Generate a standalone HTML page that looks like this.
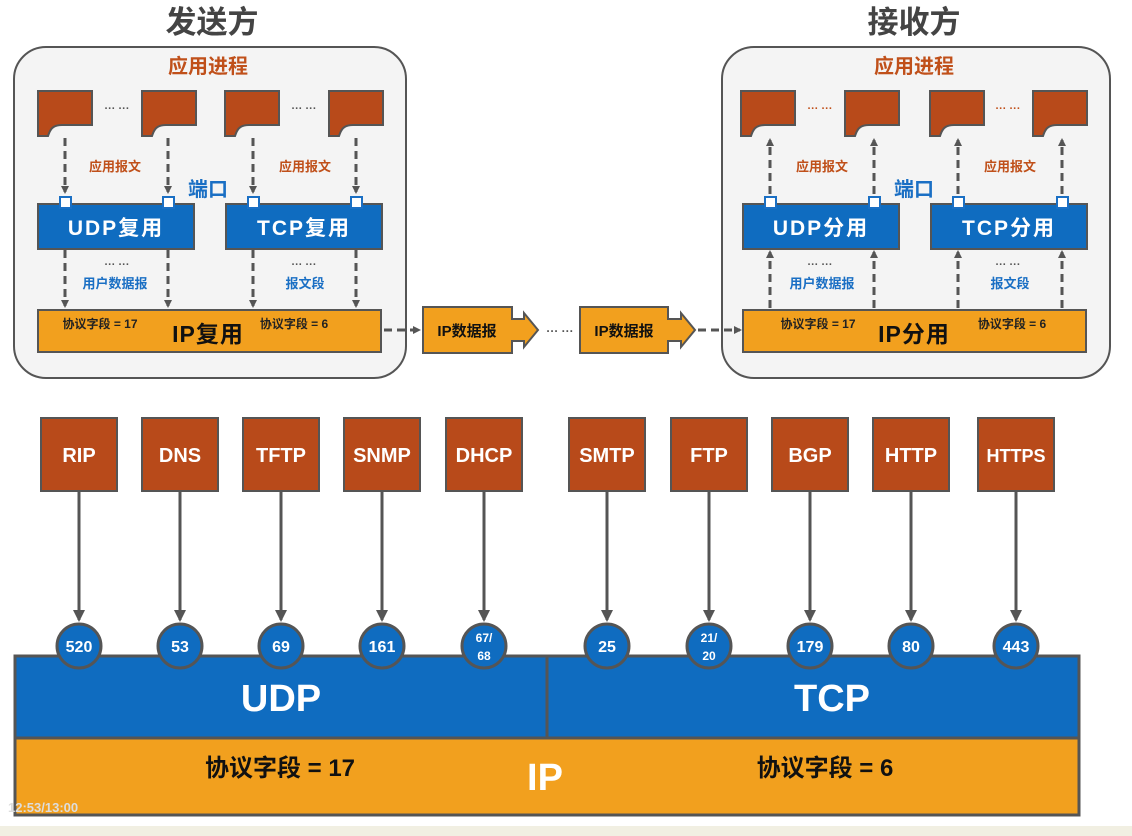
<!DOCTYPE html>
<html><head><meta charset="utf-8"><style>
html,body{margin:0;padding:0;background:#fff;}
svg{display:block;}
text{font-family:"Liberation Sans","Noto Sans CJK SC",sans-serif;font-weight:bold;}
</style></head><body>
<svg width="1132" height="836" viewBox="0 0 1132 836" xmlns="http://www.w3.org/2000/svg">
<defs>
<marker id="ah" markerWidth="8" markerHeight="8" refX="6" refY="4" orient="auto" markerUnits="userSpaceOnUse"><path d="M0,0 L8,4 L0,8 Z" fill="#555"/></marker>
<marker id="ah2" markerWidth="12" markerHeight="12" refX="10" refY="6" orient="auto" markerUnits="userSpaceOnUse"><path d="M0,0 L12,6 L0,12 Z" fill="#555"/></marker>
</defs>
<rect width="1132" height="836" fill="#fff"/>
<rect x="0" y="826" width="1132" height="10" fill="#f1efe2"/>

<text x="212" y="33" font-size="31" fill="#444" text-anchor="middle">发送方</text>
<text x="914" y="33" font-size="31" fill="#444" text-anchor="middle">接收方</text>

<rect x="14" y="47" width="392" height="331" rx="32" fill="#f4f4f4" stroke="#555" stroke-width="2"/>
<rect x="722" y="47" width="388" height="331" rx="32" fill="#f4f4f4" stroke="#555" stroke-width="2"/>
<text x="208" y="73" font-size="20" fill="#c0501a" text-anchor="middle">应用进程</text>
<text x="914" y="73" font-size="20" fill="#c0501a" text-anchor="middle">应用进程</text>

<g fill="#b84a1a" stroke="#555" stroke-width="2">
<path d="M38,91 H92 V125 H62 C52,125 50,130 48,136 H38 Z"/>
<path d="M142,91 H196 V125 H166 C156,125 154,130 152,136 H142 Z"/>
<path d="M225,91 H279 V125 H249 C239,125 237,130 235,136 H225 Z"/>
<path d="M329,91 H383 V125 H353 C343,125 341,130 339,136 H329 Z"/>
<path d="M741,91 H795 V125 H765 C755,125 753,130 751,136 H741 Z"/>
<path d="M845,91 H899 V125 H869 C859,125 857,130 855,136 H845 Z"/>
<path d="M930,91 H984 V125 H954 C944,125 942,130 940,136 H930 Z"/>
<path d="M1033,91 H1087 V125 H1057 C1047,125 1045,130 1043,136 H1033 Z"/>
</g>
<g font-size="11" fill="#555" text-anchor="middle">
<text x="117" y="112">··· ···</text><text x="304" y="112">··· ···</text>
<text x="117" y="268">··· ···</text><text x="304" y="268">··· ···</text>
<text x="820" y="112" fill="#c0501a">··· ···</text><text x="1008" y="112" fill="#c0501a">··· ···</text>
<text x="820" y="268">··· ···</text><text x="1008" y="268">··· ···</text>
</g>

<g stroke="#555" stroke-width="3" stroke-dasharray="8,5" fill="none">
<line x1="65" y1="138" x2="65" y2="192" marker-end="url(#ah)"/>
<line x1="168" y1="138" x2="168" y2="192" marker-end="url(#ah)"/>
<line x1="253" y1="138" x2="253" y2="192" marker-end="url(#ah)"/>
<line x1="356" y1="138" x2="356" y2="192" marker-end="url(#ah)"/>
<line x1="65" y1="250" x2="65" y2="306" marker-end="url(#ah)"/>
<line x1="168" y1="250" x2="168" y2="306" marker-end="url(#ah)"/>
<line x1="253" y1="250" x2="253" y2="306" marker-end="url(#ah)"/>
<line x1="356" y1="250" x2="356" y2="306" marker-end="url(#ah)"/>
<line x1="770" y1="194" x2="770" y2="140" marker-end="url(#ah)"/>
<line x1="874" y1="194" x2="874" y2="140" marker-end="url(#ah)"/>
<line x1="958" y1="194" x2="958" y2="140" marker-end="url(#ah)"/>
<line x1="1062" y1="194" x2="1062" y2="140" marker-end="url(#ah)"/>
<line x1="770" y1="308" x2="770" y2="252" marker-end="url(#ah)"/>
<line x1="874" y1="308" x2="874" y2="252" marker-end="url(#ah)"/>
<line x1="958" y1="308" x2="958" y2="252" marker-end="url(#ah)"/>
<line x1="1062" y1="308" x2="1062" y2="252" marker-end="url(#ah)"/>
<line x1="384" y1="330" x2="419" y2="330" marker-end="url(#ah)"/>
<line x1="698" y1="330" x2="740" y2="330" marker-end="url(#ah)"/>
</g>

<g font-size="13" fill="#c0501a" text-anchor="middle">
<text x="115" y="171">应用报文</text><text x="305" y="171">应用报文</text>
<text x="822" y="171">应用报文</text><text x="1010" y="171">应用报文</text>
</g>
<g font-size="13" fill="#1a6fc4" text-anchor="middle">
<text x="115" y="288">用户数据报</text><text x="305" y="288">报文段</text>
<text x="822" y="288">用户数据报</text><text x="1010" y="288">报文段</text>
</g>
<text x="208" y="196" font-size="20" fill="#1a6fc4" text-anchor="middle">端口</text>
<text x="914" y="196" font-size="20" fill="#1a6fc4" text-anchor="middle">端口</text>

<g fill="#0f6cc0" stroke="#555" stroke-width="2">
<rect x="38" y="204" width="156" height="45"/>
<rect x="226" y="204" width="156" height="45"/>
<rect x="743" y="204" width="156" height="45"/>
<rect x="931" y="204" width="156" height="45"/>
</g>
<g fill="#fff" stroke="#1a6fc4" stroke-width="2">
<rect x="60" y="197" width="11" height="11"/><rect x="163" y="197" width="11" height="11"/>
<rect x="248" y="197" width="11" height="11"/><rect x="351" y="197" width="11" height="11"/>
<rect x="765" y="197" width="11" height="11"/><rect x="869" y="197" width="11" height="11"/>
<rect x="953" y="197" width="11" height="11"/><rect x="1057" y="197" width="11" height="11"/>
</g>
<g font-size="21" fill="#fff" text-anchor="middle" letter-spacing="2">
<text x="116" y="235">UDP复用</text><text x="304" y="235">TCP复用</text>
<text x="821" y="235">UDP分用</text><text x="1009" y="235">TCP分用</text>
</g>

<rect x="38" y="310" width="343" height="42" fill="#f2a01e" stroke="#555" stroke-width="2"/>
<rect x="743" y="310" width="343" height="42" fill="#f2a01e" stroke="#555" stroke-width="2"/>
<g font-size="12" fill="#222" text-anchor="middle">
<text x="100" y="328">协议字段 = 17</text><text x="294" y="328">协议字段 = 6</text>
<text x="818" y="328">协议字段 = 17</text><text x="1012" y="328">协议字段 = 6</text>
</g>
<text x="208" y="342" font-size="23" fill="#111" text-anchor="middle" letter-spacing="1">IP复用</text>
<text x="914" y="342" font-size="23" fill="#111" text-anchor="middle" letter-spacing="1">IP分用</text>

<g fill="#f2a01e" stroke="#555" stroke-width="2">
<path d="M423,307 H512 V319 H524 V313 L538,330 L524,347 V341 H512 V353 H423 Z"/>
<path d="M580,307 H668 V319 H681 V313 L695,330 L681,347 V341 H668 V353 H580 Z"/>
</g>
<g font-size="15" fill="#111" text-anchor="middle">
<text x="467" y="336">IP数据报</text><text x="624" y="336">IP数据报</text>
</g>
<text x="560" y="335" font-size="12" fill="#555" text-anchor="middle">··· ···</text>

<g fill="#b84a1a" stroke="#555" stroke-width="2">
<rect x="41" y="418" width="76" height="73"/><rect x="142" y="418" width="76" height="73"/>
<rect x="243" y="418" width="76" height="73"/><rect x="344" y="418" width="76" height="73"/>
<rect x="446" y="418" width="76" height="73"/><rect x="569" y="418" width="76" height="73"/>
<rect x="671" y="418" width="76" height="73"/><rect x="772" y="418" width="76" height="73"/>
<rect x="873" y="418" width="76" height="73"/><rect x="978" y="418" width="76" height="73"/>
</g>
<g font-size="20" fill="#fff" text-anchor="middle" font-weight="normal">
<text x="79" y="462">RIP</text><text x="180" y="462">DNS</text><text x="281" y="462">TFTP</text>
<text x="382" y="462">SNMP</text><text x="484" y="462">DHCP</text><text x="607" y="462">SMTP</text>
<text x="709" y="462">FTP</text><text x="810" y="462">BGP</text><text x="911" y="462">HTTP</text>
<text x="1016" y="462" font-size="18">HTTPS</text>
</g>
<g stroke="#555" stroke-width="3">
<line x1="79" y1="492" x2="79" y2="620" marker-end="url(#ah2)"/>
<line x1="180" y1="492" x2="180" y2="620" marker-end="url(#ah2)"/>
<line x1="281" y1="492" x2="281" y2="620" marker-end="url(#ah2)"/>
<line x1="382" y1="492" x2="382" y2="620" marker-end="url(#ah2)"/>
<line x1="484" y1="492" x2="484" y2="620" marker-end="url(#ah2)"/>
<line x1="607" y1="492" x2="607" y2="620" marker-end="url(#ah2)"/>
<line x1="709" y1="492" x2="709" y2="620" marker-end="url(#ah2)"/>
<line x1="810" y1="492" x2="810" y2="620" marker-end="url(#ah2)"/>
<line x1="911" y1="492" x2="911" y2="620" marker-end="url(#ah2)"/>
<line x1="1016" y1="492" x2="1016" y2="620" marker-end="url(#ah2)"/>
</g>

<rect x="15" y="656" width="532" height="82" fill="#0f6cc0" stroke="#555" stroke-width="3"/>
<rect x="547" y="656" width="532" height="82" fill="#0f6cc0" stroke="#555" stroke-width="3"/>
<rect x="15" y="738" width="1064" height="77" fill="#f2a01e" stroke="#555" stroke-width="3"/>
<text x="281" y="711" font-size="38" fill="#fff" text-anchor="middle">UDP</text>
<text x="832" y="711" font-size="38" fill="#fff" text-anchor="middle">TCP</text>
<text x="280" y="776" font-size="24" fill="#111" text-anchor="middle">协议字段 = 17</text>
<text x="825" y="776" font-size="24" fill="#111" text-anchor="middle">协议字段 = 6</text>
<text x="545" y="790" font-size="38" fill="#fff" text-anchor="middle">IP</text>
<text x="8" y="812" font-size="13" fill="#ddd" font-weight="normal">12:53/13:00</text>

<g fill="#0f6cc0" stroke="#555" stroke-width="3">
<circle cx="79" cy="646" r="22"/><circle cx="180" cy="646" r="22"/><circle cx="281" cy="646" r="22"/>
<circle cx="382" cy="646" r="22"/><circle cx="484" cy="646" r="22"/><circle cx="607" cy="646" r="22"/>
<circle cx="709" cy="646" r="22"/><circle cx="810" cy="646" r="22"/><circle cx="911" cy="646" r="22"/>
<circle cx="1016" cy="646" r="22"/>
</g>
<g font-size="16" fill="#fff" text-anchor="middle" font-weight="normal">
<text x="79" y="652">520</text><text x="180" y="652">53</text><text x="281" y="652">69</text>
<text x="382" y="652">161</text><text x="607" y="652">25</text><text x="810" y="652">179</text>
<text x="911" y="652">80</text><text x="1016" y="652">443</text>
</g>
<g font-size="12" fill="#fff" text-anchor="middle" font-weight="normal">
<text x="484" y="642">67/</text><text x="484" y="660">68</text>
<text x="709" y="642">21/</text><text x="709" y="660">20</text>
</g>
</svg>
</body></html>
